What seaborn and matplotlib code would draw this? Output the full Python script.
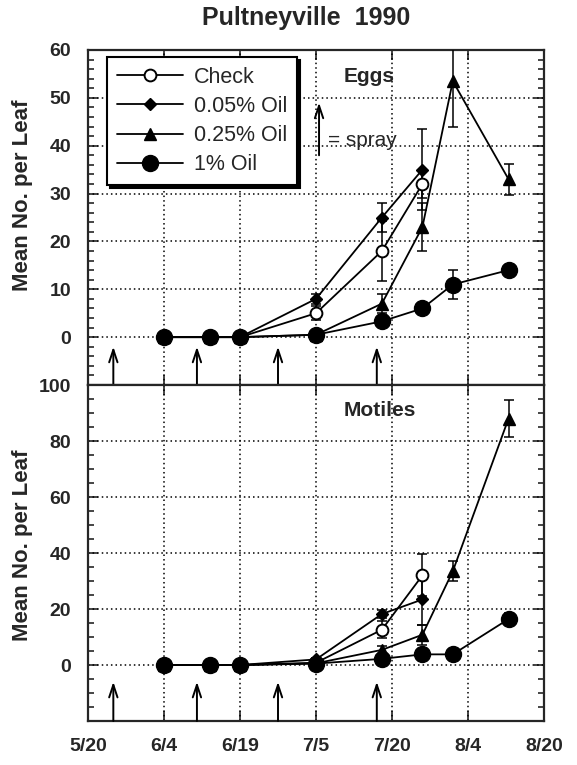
import matplotlib
matplotlib.use("Agg")
import matplotlib.pyplot as plt
from matplotlib.lines import Line2D
import numpy as np
import pandas as pd
import seaborn as sns

# x = days after 5/20, ticks every 15 days
tick_days = [0, 15, 30, 45, 60, 75, 90]
tick_labels = ["5/20", "6/4", "6/19", "7/5", "7/20", "8/4", "8/20"]
sample_days = [15, 24, 30, 45, 58, 66, 72, 83]
spray_days = [5, 21.5, 37.5, 57]

treatments = ["Check", "0.05% Oil", "0.25% Oil", "1% Oil"]

# Eggs
eggs_check = [0, 0, 0, 5, 18, 32]
eggs_check_err = [0, 0, 0, 1.5, 6.3, 3]
eggs_005 = [0, 0, 0, 8, 25, 35]
eggs_005_err = [0, 0, 0, 1, 3, 8.4]
eggs_025 = [0, 0, 0, 0.5, 7, 23, 53.5, 33]
eggs_025_err = [0, 0, 0, 0.5, 2, 5, 9.5, 3.2]
eggs_1 = [0, 0, 0, 0.5, 3.3, 6, 11, 14]
eggs_1_err = [0, 0, 0, 0.3, 0.5, 0.8, 3, 1]

# Motiles
mot_check = [0, 0, 0, 0.8, 12.6, 32]
mot_check_err = [0, 0, 0, 0.5, 3, 7.5]
mot_005 = [0, 0, 0, 2, 18.2, 23.4]
mot_005_err = [0, 0, 0, 0.5, 1.5, 9]
mot_025 = [0, 0, 0, 0.6, 5.4, 10.8, 33.5, 88]
mot_025_err = [0, 0, 0, 0.3, 1.5, 3.5, 3.5, 6.5]
mot_1 = [0, 0, 0, 0.5, 2.2, 3.8, 3.8, 16.4]
mot_1_err = [0, 0, 0, 0.2, 0.5, 0.5, 0.5, 2]

styles = {
    "Check": dict(marker="o", markersize=8.5, markerfacecolor="white", markeredgewidth=1.4),
    "0.05% Oil": dict(marker="D", markersize=6.5, markerfacecolor="black", markeredgewidth=1),
    "0.25% Oil": dict(marker="^", markersize=9, markerfacecolor="black", markeredgewidth=1),
    "1% Oil": dict(marker="o", markersize=11.5, markerfacecolor="black", markeredgewidth=1),
}

def make_frame(series):
    rows = []
    for name, (vals, errs) in series.items():
        for d, v, e in zip(sample_days, vals, errs):
            rows.append({"day": d, "mean": v, "err": e, "trt": name})
    return pd.DataFrame(rows)

eggs_df = make_frame({
    "Check": (eggs_check, eggs_check_err),
    "0.05% Oil": (eggs_005, eggs_005_err),
    "0.25% Oil": (eggs_025, eggs_025_err),
    "1% Oil": (eggs_1, eggs_1_err),
})
mot_df = make_frame({
    "Check": (mot_check, mot_check_err),
    "0.05% Oil": (mot_005, mot_005_err),
    "0.25% Oil": (mot_025, mot_025_err),
    "1% Oil": (mot_1, mot_1_err),
})

sns.set_style("ticks")
plt.rcParams["font.family"] = ["Liberation Sans", "DejaVu Sans"]

fig = plt.figure(figsize=(5.77, 7.65), dpi=100)
ax1 = fig.add_axes([88 / 577, 1 - 385 / 765, 456 / 577, 335 / 765])
ax2 = fig.add_axes([88 / 577, 1 - 721 / 765, 456 / 577, 336 / 765], sharex=ax1)

def draw_panel(ax, df, ylim, major, minor, spray_tip):
    for trt in treatments:
        sub = df[df["trt"] == trt]
        sns.lineplot(data=sub, x="day", y="mean", ax=ax, color="black", lw=1.3,
                     markeredgecolor="black", legend=False, zorder=4, **styles[trt])
        nz = sub[sub["err"] > 0]
        ax.errorbar(nz["day"], nz["mean"], yerr=nz["err"], fmt="none", ecolor="black",
                    elinewidth=1.1, capsize=3.5, capthick=1.1, zorder=3)
    ax.set_ylim(*ylim)
    ax.set_xlim(0, 90)
    ax.set_yticks(major)
    ax.set_yticks(minor, minor=True)
    ax.set_xticks(tick_days)
    for y in major[:-1]:
        ax.axhline(y, color="black", ls=(0, (1, 2)), lw=1.1, zorder=1)
    for x in tick_days[1:-1]:
        ax.axvline(x, color="black", ls=(0, (1, 2)), lw=1.1, zorder=1)
    for d in spray_days:
        ax.annotate("", xy=(d, spray_tip), xytext=(d, ylim[0]),
                    arrowprops=dict(arrowstyle="->,head_length=0.9,head_width=0.3",
                                    color="black", lw=1.4, shrinkA=0, shrinkB=0))
    ax.tick_params(axis="both", which="both", direction="in", top=True, right=True,
                   width=1.2, labelsize=14)
    ax.tick_params(axis="both", which="major", length=7, pad=12)
    ax.tick_params(axis="both", which="minor", length=4)
    for sp in ax.spines.values():
        sp.set_linewidth(1.6)
    ax.set_xlabel("")
    ax.set_ylabel("Mean No. per Leaf", fontsize=16, fontweight="bold")

draw_panel(ax1, eggs_df, (-10, 60), [0, 10, 20, 30, 40, 50, 60],
           np.arange(-10, 61, 2), -2)
draw_panel(ax2, mot_df, (-20, 100), [0, 20, 40, 60, 80, 100],
           np.arange(-20, 101, 5), -6)

ax1.set_yticklabels(["0", "10", "20", "30", "40", "50", "60"], fontweight="bold")
ax2.set_yticklabels(["0", "20", "40", "60", "80", "100"], fontweight="bold")
ax2.set_xticklabels(tick_labels, fontweight="bold")
plt.setp(ax1.get_xticklabels(), visible=False)
ax1.yaxis.set_label_coords(-0.12, 0.567)
ax2.yaxis.set_label_coords(-0.12, 0.524)

ax1.text(55.5, 54.5, "Eggs", fontsize=15, fontweight="bold", ha="center", va="center")
ax2.text(57.6, 91, "Motiles", fontsize=15, fontweight="bold", ha="center", va="center")

ax1.annotate("", xy=(45.6, 49), xytext=(45.6, 38),
             arrowprops=dict(arrowstyle="->,head_length=0.9,head_width=0.3",
                             color="black", lw=1.4, shrinkA=0, shrinkB=0))
ax1.text(47.3, 41, "= spray", fontsize=15, ha="left", va="center")

handles = [Line2D([], [], color="black", lw=1.3, markeredgecolor="black", **styles[t])
           for t in treatments]
leg = ax1.legend(handles, treatments, loc="upper left", bbox_to_anchor=(107 / 577, 1 - 57 / 765),
                 bbox_transform=fig.transFigure, borderaxespad=0, frameon=True, fancybox=False,
                 shadow={"color": "black", "alpha": 1}, fontsize=15.5, handlelength=3.1,
                 handletextpad=0.5, labelspacing=0.38, borderpad=0.45)
leg.get_frame().set_edgecolor("black")
leg.get_frame().set_linewidth(1.5)
leg.set_zorder(10)

fig.text(0.53, 1 - 18 / 765, "Pultneyville  1990", fontsize=18, fontweight="bold",
         ha="center", va="center")

fig.savefig("out.png", dpi=100)
